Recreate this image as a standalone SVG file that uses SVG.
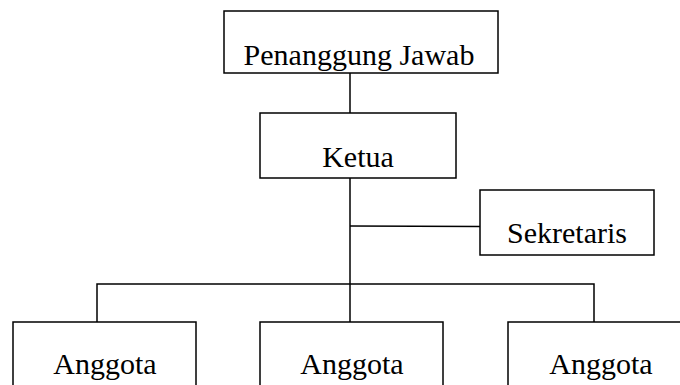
<svg xmlns="http://www.w3.org/2000/svg" width="680" height="385" viewBox="0 0 680 385">
<style>
  .box { fill: #ffffff; stroke: #000000; stroke-width: 1.5; }
  .lbl { font-family: 'Liberation Serif', Tinos, 'Times New Roman', Times, serif; font-size: 30px; fill: #000000; text-anchor: middle; }
  .con { fill: none; stroke: #000000; stroke-width: 1.5; }
</style>
<defs>
  <clipPath id="c1"><rect x="224" y="11" width="274" height="61"/></clipPath>
</defs>
<rect x="0" y="0" width="680" height="385" fill="#ffffff"/>
<g id="connectors">
  <line class="con" x1="350" y1="73" x2="350" y2="113"/>
  <line class="con" x1="350" y1="178" x2="350" y2="322"/>
  <line class="con" x1="350" y1="226" x2="480" y2="226.5"/>
  <polyline class="con" points="97,322 97,284 594,284 594,322"/>
</g>
<g id="penanggung-jawab">
  <rect class="box" x="224" y="11" width="274" height="62"/>
  <text class="lbl" x="359" y="65" clip-path="url(#c1)" font-family="Liberation Serif, serif">Penanggung Jawab</text>
</g>
<g id="ketua">
  <rect class="box" x="260" y="113" width="196" height="65"/>
  <text class="lbl" x="358" y="167" font-family="Liberation Serif, serif">Ketua</text>
</g>
<g id="sekretaris">
  <rect class="box" x="480" y="190" width="174" height="65"/>
  <text class="lbl" x="567" y="243" font-family="Liberation Serif, serif">Sekretaris</text>
</g>
<g id="anggota-1">
  <rect class="box" x="13" y="322" width="183" height="80"/>
  <text class="lbl" x="105" y="374" font-family="Liberation Serif, serif">Anggota</text>
</g>
<g id="anggota-2">
  <rect class="box" x="260" y="322" width="183" height="80"/>
  <text class="lbl" x="352" y="374" font-family="Liberation Serif, serif">Anggota</text>
</g>
<g id="anggota-3">
  <rect class="box" x="508" y="322" width="183" height="80"/>
  <text class="lbl" x="601" y="374" font-family="Liberation Serif, serif">Anggota</text>
</g>
</svg>
